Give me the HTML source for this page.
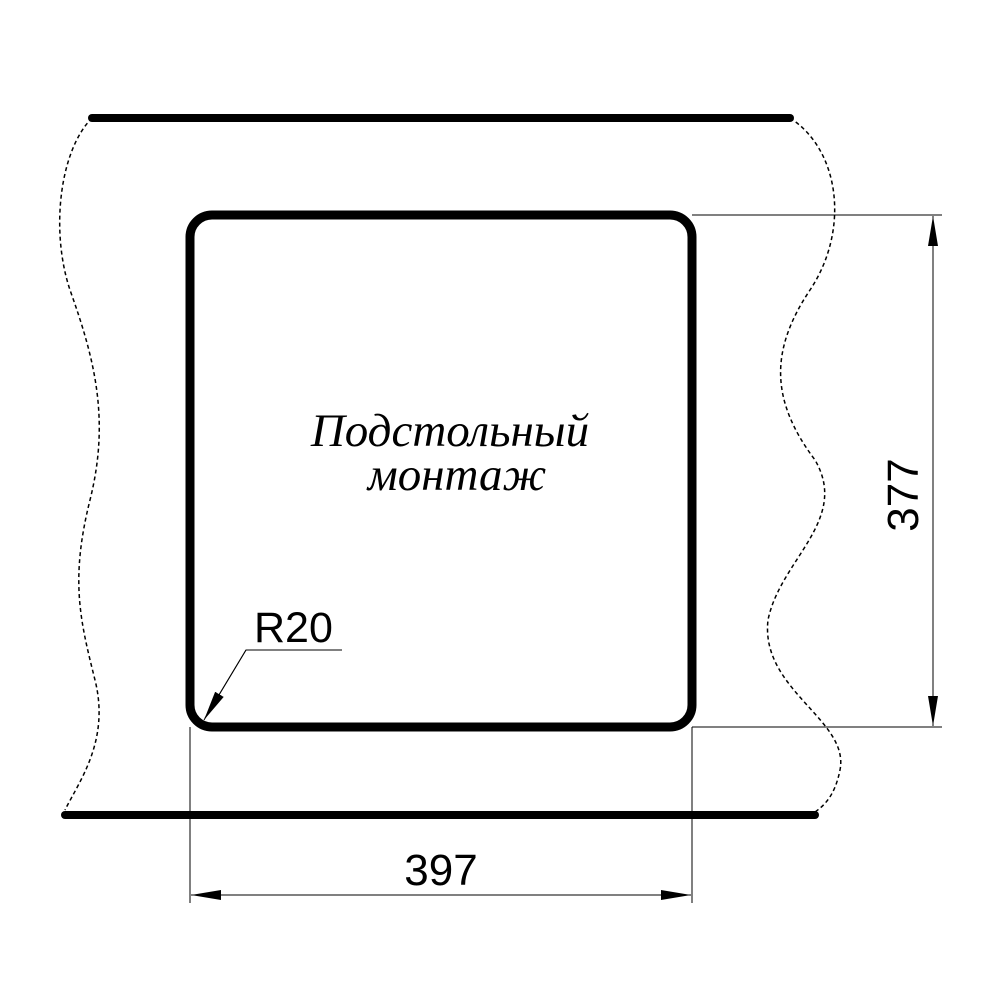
<!DOCTYPE html>
<html><head><meta charset="utf-8"><style>
html,body{margin:0;padding:0;background:#fff;}
svg{display:block;}
</style></head><body>
<svg width="1000" height="1000" viewBox="0 0 1000 1000" xmlns="http://www.w3.org/2000/svg">
<defs>
<marker id="a" markerWidth="30" markerHeight="12" refX="30" refY="6" orient="auto" markerUnits="userSpaceOnUse">
<path d="M0,1 L30,6 L0,11 Z" fill="#000"/>
</marker>
</defs>
<line x1="92" y1="118" x2="790" y2="118" stroke="#000" stroke-width="8" stroke-linecap="round"/>
<line x1="65" y1="815" x2="815" y2="815" stroke="#000" stroke-width="8" stroke-linecap="round"/>
<path d="M92,118 C60,150 50,230 70,290 C95,360 110,420 90,500 C70,580 80,620 95,680 C110,740 80,780 65,810" fill="none" stroke="#000" stroke-width="1.5" stroke-dasharray="4,3"/>
<path d="M790,118 C840,150 850,230 810,290 C770,350 770,400 815,460 C850,520 780,560 768,620 C760,690 850,720 840,770 C835,795 825,805 815,812" fill="none" stroke="#000" stroke-width="1.5" stroke-dasharray="4,3"/>
<rect x="190" y="215" width="502" height="512" rx="22" ry="22" fill="none" stroke="#000" stroke-width="9"/>
<line x1="692" y1="215" x2="942" y2="215" stroke="#000" stroke-width="1"/>
<line x1="692" y1="727" x2="942" y2="727" stroke="#000" stroke-width="1"/>
<line x1="190" y1="727" x2="190" y2="903" stroke="#000" stroke-width="1"/>
<line x1="692" y1="727" x2="692" y2="903" stroke="#000" stroke-width="1"/>
<line x1="933" y1="471" x2="933" y2="216" stroke="#000" stroke-width="1" marker-end="url(#a)"/>
<line x1="933" y1="471" x2="933" y2="726" stroke="#000" stroke-width="1" marker-end="url(#a)"/>
<line x1="441" y1="895" x2="191" y2="895" stroke="#000" stroke-width="1" marker-end="url(#a)"/>
<line x1="441" y1="895" x2="691" y2="895" stroke="#000" stroke-width="1" marker-end="url(#a)"/>
<text x="441" y="885" font-family="Liberation Sans, sans-serif" font-size="44" text-anchor="middle">397</text>
<text transform="translate(918,495) rotate(-90)" font-family="Liberation Sans, sans-serif" font-size="44" text-anchor="middle">377</text>
<polyline points="342,650 246,650 205,718" fill="none" stroke="#000" stroke-width="1"/>
<line x1="246" y1="650" x2="204" y2="720" stroke="#000" stroke-width="1" marker-end="url(#a)"/>
<text x="254" y="642" font-family="Liberation Sans, sans-serif" font-size="43">R20</text>
<text x="450" y="446" font-family="Liberation Serif, serif" font-style="italic" font-size="47" text-anchor="middle">Подстольный</text>
<text x="457" y="490" font-family="Liberation Serif, serif" font-style="italic" font-size="47" text-anchor="middle">монтаж</text>
</svg>
</body></html>
